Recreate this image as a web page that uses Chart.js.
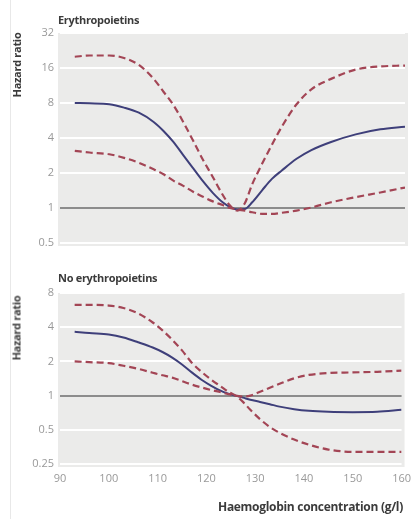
<!DOCTYPE html>
<html>
<head>
<meta charset="utf-8">
<script src="https://cdn.jsdelivr.net/npm/chart.js@4.4.0/dist/chart.umd.min.js"></script>
<style>
  html, body { margin: 0; padding: 0; background: #fff; }
  body { width: 419px; height: 519px; position: relative; overflow: hidden; font-family: "Open Sans", sans-serif; }
  .frame { position: absolute; left: 10px; top: 0; width: 1px; height: 519px; background: #e8e8e8; }
  .panel { position: absolute; left: 0; width: 419px; }
  canvas { display: block; }
  .lbl { position: absolute; font-weight: 700; color: #3b3b3b; font-size: 11px; white-space: nowrap; letter-spacing: -0.3px; }
  .ytitle { transform: translate(-50%, -50%) rotate(-90deg); }
</style>
</head>
<body>
<div class="frame"></div>
<div class="panel" style="top:0;height:260px"><canvas id="top" width="419" height="260"></canvas></div>
<div class="panel" style="top:260px;height:259px"><canvas id="bottom" width="419" height="259"></canvas></div>
<div class="lbl" style="left:58px;top:12px">Erythropoietins</div>
<div class="lbl" style="left:58px;top:270px">No erythropoietins</div>
<div class="lbl ytitle" style="left:16px;top:65px">Hazard ratio</div>
<div class="lbl ytitle" style="left:16px;top:328px">Hazard ratio</div>
<div class="lbl" style="left:218px;top:498px;font-size:12px">Haemoglobin concentration (g/l)</div>
<script>
// haemoglobin (g/l)
const hb = [93, 96, 100, 103, 106, 109, 111, 113, 115, 117, 119, 121, 123, 124.5, 126, 127.5, 129, 131, 133, 135, 138, 141, 145, 150, 155, 160];

// Erythropoietins
const epoHR    = [8, 7.95, 7.8, 7.3, 6.6, 5.5, 4.6, 3.7, 2.85, 2.2, 1.7, 1.35, 1.12, 1.02, 0.97, 0.98, 1.12, 1.42, 1.78, 2.1, 2.65, 3.15, 3.7, 4.3, 4.75, 5.0];
const epoUpper = [20, 20.5, 20.5, 19.5, 17, 12.9, 10, 7.7, 5.5, 3.8, 2.6, 1.85, 1.3, 1.05, 0.95, 1.1, 1.6, 2.4, 3.5, 5.0, 7.8, 10.5, 12.9, 15.5, 16.5, 16.8];
const epoLower = [3.1, 3.0, 2.9, 2.7, 2.45, 2.15, 1.95, 1.72, 1.55, 1.38, 1.25, 1.14, 1.06, 1.0, 0.97, 0.95, 0.92, 0.89, 0.89, 0.91, 0.95, 1.01, 1.12, 1.24, 1.36, 1.5];

// No erythropoietins
const noHR    = [3.65, 3.55, 3.45, 3.25, 2.95, 2.65, 2.42, 2.16, 1.88, 1.6, 1.38, 1.22, 1.1, 1.04, 1.0, 0.96, 0.92, 0.88, 0.84, 0.8, 0.76, 0.735, 0.72, 0.715, 0.72, 0.75];
const noUpper = [6.3, 6.3, 6.2, 5.9, 5.3, 4.4, 3.75, 3.1, 2.5, 1.95, 1.62, 1.38, 1.2, 1.08, 1.0, 0.88, 0.75, 0.62, 0.53, 0.47, 0.41, 0.37, 0.335, 0.32, 0.32, 0.32];
const noLower = [2.0, 1.97, 1.93, 1.83, 1.72, 1.59, 1.51, 1.44, 1.34, 1.25, 1.18, 1.12, 1.07, 1.03, 1.0, 0.98, 1.0, 1.08, 1.17, 1.27, 1.42, 1.52, 1.58, 1.6, 1.62, 1.66];

const topTicks = [0.5, 1, 2, 4, 8, 16, 32];
const bottomTicks = [0.25, 0.5, 1, 2, 4, 8];
const xTicks = [90, 100, 110, 120, 130, 140, 150, 160];

const solidColor = '#3e3f7a';
const dashColor = '#a34555';
const tickFont = { family: 'Open Sans', size: 11 };

const plotBg = {
  id: 'plotBg',
  beforeDraw(chart) {
    const a = chart.chartArea, c = chart.ctx;
    c.save();
    c.fillStyle = '#ebebea';
    c.fillRect(a.left - 2, a.top, a.right - a.left + 5, a.bottom - a.top + 3);
    c.restore();
  }
};

function pts(ys) {
  return hb.map((x, i) => ({ x: x, y: ys[i] }));
}

function series(ys, dashed) {
  return {
    data: pts(ys),
    borderColor: dashed ? dashColor : solidColor,
    borderWidth: dashed ? 2.2 : 2,
    borderDash: dashed ? [7, 4] : [],
    pointRadius: 0,
    fill: false,
    cubicInterpolationMode: 'monotone'
  };
}

function makeChart(id, hr, upper, lower, yTicks, showX, pad) {
  new Chart(document.getElementById(id), {
    type: 'line',
    data: { datasets: [series(upper, true), series(lower, true), series(hr, false)] },
    options: {
      responsive: false,
      animation: false,
      layout: { padding: pad },
      plugins: { legend: { display: false }, tooltip: { enabled: false } },
      scales: {
        x: {
          type: 'linear', min: 90, max: 160,
          display: showX,
          grid: { display: false, drawTicks: false },
          border: { display: false },
          afterBuildTicks: (s) => { s.ticks = xTicks.map(v => ({ value: v })); },
          afterFit: (s) => { s.height = showX ? 25 : 0; },
          ticks: { padding: 8, color: '#999', font: tickFont, maxRotation: 0 }
        },
        y: {
          type: 'logarithmic',
          min: yTicks[0], max: yTicks[yTicks.length - 1],
          border: { display: false },
          grid: {
            drawTicks: false,
            color: (c) => c.tick && c.tick.value === 1 ? '#8c8c8c' : '#ffffff',
            lineWidth: 2
          },
          afterBuildTicks: (s) => { s.ticks = yTicks.map(v => ({ value: v })); },
          afterFit: (s) => { s.width = 60; },
          ticks: { padding: 6, color: '#999', font: tickFont, callback: (v) => String(v) }
        }
      }
    },
    plugins: [plotBg]
  });
}

makeChart('top', epoHR, epoUpper, epoLower, topTicks, false, { top: 33, right: 14, bottom: 17, left: 0 });
makeChart('bottom', noHR, noUpper, noLower, bottomTicks, true, { top: 33, right: 14, bottom: 30, left: 0 });
</script>
</body>
</html>
